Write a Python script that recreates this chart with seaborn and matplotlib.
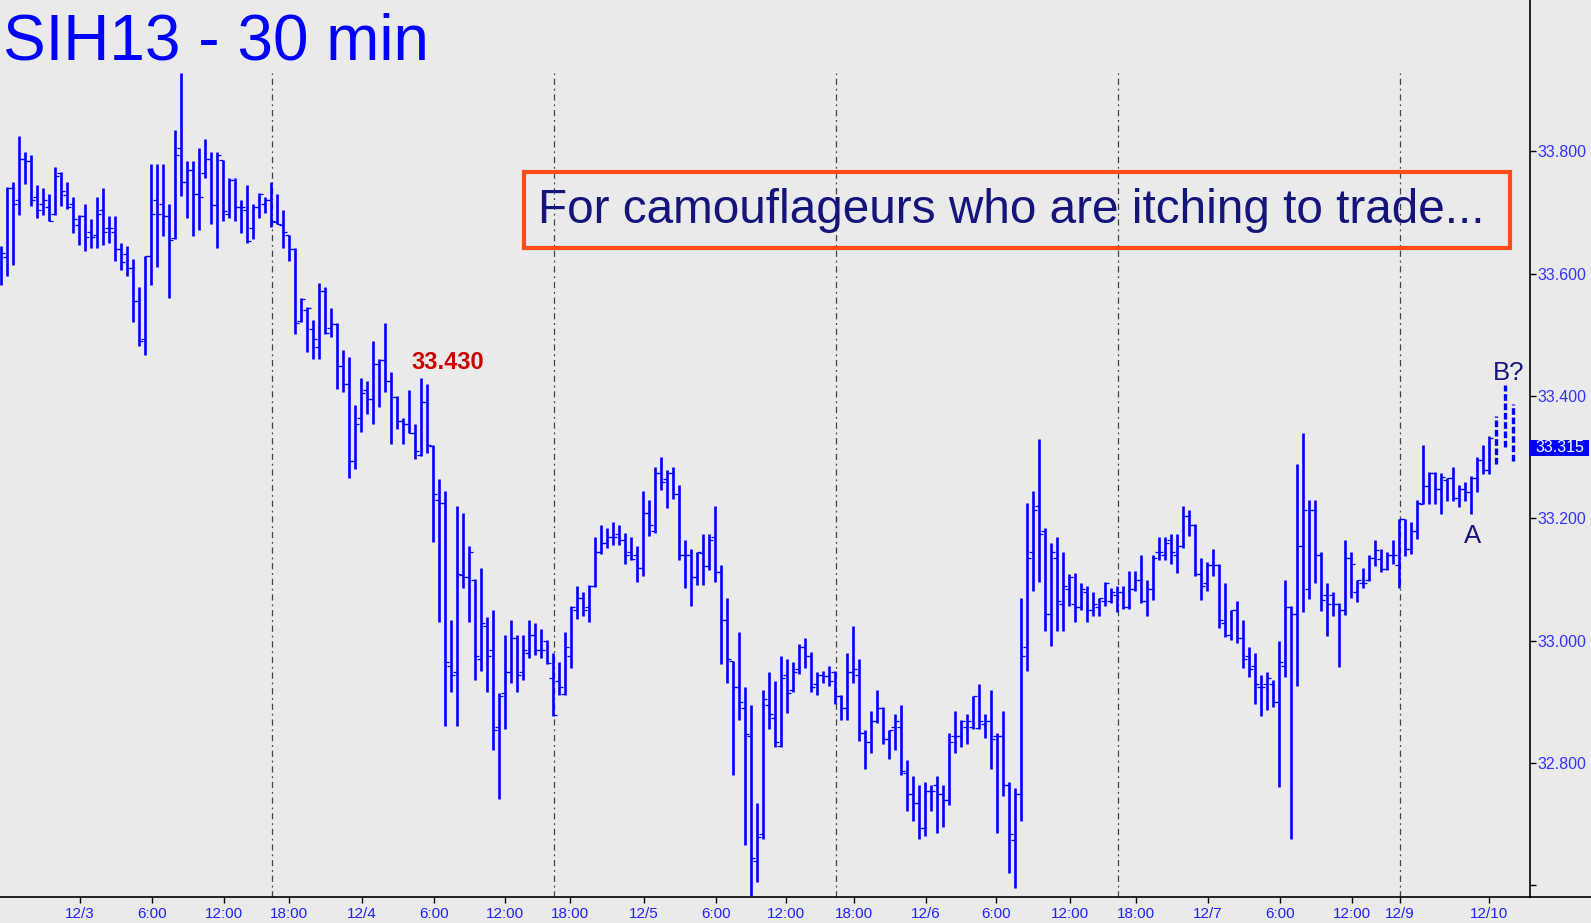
import numpy as np
import pandas as pd
import seaborn as sns
import matplotlib.pyplot as plt
from matplotlib.markers import MarkerStyle
from matplotlib.patches import Rectangle
from matplotlib.lines import Line2D

# 30-minute OHLC bars (one value per bar)
opens = [
    33.610, 33.627, 33.740, 33.720, 33.788, 33.784, 33.725, 33.714, 33.709, 33.698,
    33.764, 33.729, 33.714, 33.679, 33.694, 33.669, 33.664, 33.704, 33.674, 33.669,
    33.640, 33.633, 33.609, 33.555, 33.494, 33.629, 33.720, 33.714, 33.694, 33.658,
    33.805, 33.750, 33.769, 33.730, 33.764, 33.788, 33.713, 33.786, 33.698, 33.754,
    33.709, 33.704, 33.674, 33.709, 33.714, 33.720, 33.684, 33.679, 33.664, 33.640,
    33.522, 33.540, 33.509, 33.480, 33.571, 33.512, 33.518, 33.449, 33.419, 33.293,
    33.364, 33.409, 33.395, 33.452, 33.459, 33.424, 33.398, 33.359, 33.354, 33.340,
    33.303, 33.390, 33.318, 33.230, 33.225, 32.959, 32.949, 33.108, 33.104, 33.099,
    32.970, 33.024, 32.985, 32.858, 32.914, 32.949, 33.004, 32.949, 32.980, 33.009,
    32.985, 33.000, 32.939, 32.934, 32.913, 32.975, 33.050, 33.070, 33.055, 33.089,
    33.145, 33.160, 33.170, 33.174, 33.165, 33.145, 33.140, 33.119, 33.209, 33.179,
    33.274, 33.264, 33.274, 33.240, 33.140, 33.140, 33.104, 33.144, 33.122, 33.169,
    33.113, 33.034, 32.967, 32.924, 32.890, 32.844, 32.640, 32.684, 32.895, 32.873,
    32.828, 32.944, 32.919, 32.954, 32.990, 32.975, 32.929, 32.944, 32.942, 32.949,
    32.910, 32.890, 32.949, 32.944, 32.849, 32.834, 32.869, 32.890, 32.839, 32.859,
    32.859, 32.783, 32.749, 32.735, 32.694, 32.754, 32.764, 32.749, 32.740, 32.844,
    32.844, 32.859, 32.859, 32.857, 32.864, 32.869, 32.844, 32.844, 32.764, 32.674,
    32.749, 32.990, 33.145, 33.220, 33.179, 33.044, 33.135, 33.060, 33.084, 33.060,
    33.055, 33.080, 33.050, 33.055, 33.065, 33.065, 33.075, 33.080, 33.055, 33.084,
    33.099, 33.065, 33.084, 33.145, 33.140, 33.165, 33.140, 33.155, 33.204, 33.189,
    33.109, 33.094, 33.124, 33.124, 33.029, 33.009, 33.050, 33.004, 32.975, 32.959,
    32.924, 32.929, 32.929, 32.900, 32.959, 33.055, 33.044, 33.155, 33.084, 33.214,
    33.140, 33.075, 33.075, 33.060, 33.050, 33.135, 33.080, 33.094, 33.099, 33.135,
    33.133, 33.117, 33.140, 33.124, 33.199, 33.150, 33.179, 33.223, 33.253, 33.274,
    33.248, 33.263, 33.266, 33.233, 33.248, 33.243, 33.266, 33.296, 33.279,
]
highs = [
    33.645, 33.741, 33.750, 33.825, 33.799, 33.794, 33.745, 33.740, 33.730, 33.774,
    33.766, 33.750, 33.725, 33.696, 33.714, 33.689, 33.725, 33.740, 33.694, 33.694,
    33.650, 33.645, 33.624, 33.579, 33.629, 33.779, 33.779, 33.779, 33.714, 33.835,
    33.929, 33.784, 33.784, 33.805, 33.820, 33.799, 33.799, 33.786, 33.756, 33.756,
    33.720, 33.745, 33.714, 33.732, 33.725, 33.750, 33.730, 33.704, 33.664, 33.642,
    33.560, 33.545, 33.524, 33.584, 33.579, 33.544, 33.519, 33.475, 33.463, 33.385,
    33.429, 33.424, 33.490, 33.460, 33.519, 33.439, 33.400, 33.364, 33.409, 33.354,
    33.429, 33.419, 33.320, 33.264, 33.245, 33.034, 33.220, 33.209, 33.155, 33.101,
    33.119, 33.039, 33.050, 32.914, 33.009, 33.034, 33.009, 33.009, 33.034, 33.029,
    33.019, 33.001, 32.980, 32.965, 33.014, 33.057, 33.089, 33.080, 33.091, 33.170,
    33.189, 33.184, 33.194, 33.189, 33.176, 33.170, 33.155, 33.245, 33.230, 33.284,
    33.300, 33.279, 33.284, 33.254, 33.165, 33.150, 33.145, 33.174, 33.174, 33.220,
    33.124, 33.070, 32.967, 33.014, 32.924, 32.895, 32.735, 32.919, 32.949, 32.934,
    32.975, 32.970, 32.965, 32.995, 33.004, 32.981, 32.949, 32.950, 32.959, 32.950,
    32.911, 32.980, 33.024, 32.970, 32.854, 32.885, 32.919, 32.891, 32.854, 32.880,
    32.895, 32.805, 32.779, 32.764, 32.769, 32.764, 32.779, 32.764, 32.849, 32.885,
    32.870, 32.880, 32.909, 32.929, 32.880, 32.919, 32.849, 32.885, 32.769, 32.759,
    33.070, 33.225, 33.245, 33.330, 33.184, 33.160, 33.169, 33.145, 33.109, 33.111,
    33.094, 33.089, 33.080, 33.070, 33.096, 33.086, 33.089, 33.089, 33.114, 33.114,
    33.140, 33.099, 33.140, 33.169, 33.169, 33.174, 33.174, 33.220, 33.214, 33.191,
    33.135, 33.129, 33.150, 33.125, 33.094, 33.050, 33.065, 33.034, 32.990, 32.980,
    32.944, 32.949, 32.936, 32.999, 33.099, 33.057, 33.289, 33.340, 33.230, 33.230,
    33.145, 33.094, 33.080, 33.062, 33.165, 33.145, 33.099, 33.119, 33.140, 33.165,
    33.150, 33.145, 33.165, 33.199, 33.199, 33.194, 33.230, 33.320, 33.276, 33.276,
    33.274, 33.266, 33.284, 33.254, 33.259, 33.269, 33.300, 33.320, 33.335,
]
lows = [
    33.581, 33.596, 33.615, 33.696, 33.746, 33.710, 33.691, 33.696, 33.686, 33.696,
    33.710, 33.705, 33.666, 33.647, 33.637, 33.642, 33.642, 33.647, 33.651, 33.620,
    33.606, 33.596, 33.521, 33.481, 33.467, 33.581, 33.611, 33.661, 33.561, 33.656,
    33.727, 33.691, 33.661, 33.671, 33.756, 33.681, 33.642, 33.686, 33.691, 33.686,
    33.666, 33.651, 33.656, 33.691, 33.700, 33.676, 33.681, 33.642, 33.620, 33.501,
    33.521, 33.472, 33.460, 33.460, 33.501, 33.496, 33.411, 33.406, 33.266, 33.280,
    33.341, 33.370, 33.355, 33.382, 33.406, 33.321, 33.346, 33.321, 33.339, 33.297,
    33.302, 33.306, 33.161, 33.031, 32.861, 32.916, 32.861, 33.086, 33.031, 32.936,
    32.950, 32.916, 32.821, 32.741, 32.856, 32.931, 32.916, 32.936, 32.972, 32.977,
    32.972, 32.962, 32.877, 32.911, 32.911, 32.955, 33.035, 33.040, 33.031, 33.088,
    33.142, 33.152, 33.156, 33.156, 33.125, 33.132, 33.096, 33.106, 33.171, 33.176,
    33.246, 33.217, 33.232, 33.132, 33.086, 33.057, 33.091, 33.091, 33.116, 33.096,
    32.962, 32.931, 32.780, 32.870, 32.666, 32.583, 32.605, 32.676, 32.856, 32.826,
    32.826, 32.882, 32.916, 32.946, 32.955, 32.916, 32.911, 32.931, 32.926, 32.896,
    32.870, 32.870, 32.931, 32.836, 32.790, 32.816, 32.865, 32.831, 32.807, 32.821,
    32.780, 32.722, 32.705, 32.676, 32.681, 32.722, 32.686, 32.695, 32.731, 32.816,
    32.826, 32.831, 32.856, 32.856, 32.841, 32.790, 32.686, 32.746, 32.620, 32.596,
    32.705, 32.950, 33.081, 33.096, 33.016, 32.991, 33.016, 33.016, 33.057, 33.031,
    33.050, 33.031, 33.040, 33.040, 33.057, 33.062, 33.047, 33.052, 33.052, 33.081,
    33.062, 33.040, 33.066, 33.132, 33.132, 33.125, 33.111, 33.152, 33.171, 33.106,
    33.066, 33.081, 33.106, 33.021, 33.006, 33.001, 32.996, 32.955, 32.941, 32.896,
    32.877, 32.887, 32.892, 32.761, 32.941, 32.676, 32.926, 33.047, 33.068, 33.094,
    33.049, 33.008, 33.040, 32.957, 33.042, 33.070, 33.063, 33.086, 33.098, 33.122,
    33.112, 33.116, 33.125, 33.086, 33.138, 33.142, 33.166, 33.223, 33.223, 33.223,
    33.207, 33.228, 33.228, 33.218, 33.228, 33.207, 33.243, 33.272, 33.272,
]
closes = [
    33.634, 33.740, 33.714, 33.788, 33.784, 33.720, 33.704, 33.720, 33.687, 33.759,
    33.735, 33.709, 33.689, 33.694, 33.660, 33.660, 33.698, 33.669, 33.674, 33.640,
    33.619, 33.609, 33.555, 33.490, 33.629, 33.698, 33.698, 33.694, 33.655, 33.794,
    33.750, 33.769, 33.730, 33.725, 33.788, 33.713, 33.794, 33.703, 33.754, 33.709,
    33.709, 33.653, 33.709, 33.730, 33.720, 33.687, 33.682, 33.669, 33.640, 33.519,
    33.558, 33.544, 33.494, 33.571, 33.503, 33.518, 33.449, 33.419, 33.293, 33.354,
    33.405, 33.395, 33.452, 33.459, 33.424, 33.398, 33.359, 33.354, 33.339, 33.310,
    33.390, 33.320, 33.240, 33.225, 32.965, 32.944, 33.109, 33.104, 33.145, 32.975,
    33.029, 32.975, 32.854, 32.910, 32.949, 33.004, 32.944, 32.985, 33.009, 32.985,
    32.985, 32.964, 32.878, 32.924, 32.990, 33.055, 33.070, 33.050, 33.089, 33.145,
    33.160, 33.170, 33.170, 33.165, 33.140, 33.134, 33.119, 33.209, 33.189, 33.274,
    33.259, 33.274, 33.240, 33.140, 33.140, 33.104, 33.145, 33.122, 33.165, 33.113,
    33.034, 32.970, 32.924, 32.900, 32.848, 32.645, 32.679, 32.905, 32.880, 32.834,
    32.939, 32.914, 32.949, 32.990, 32.975, 32.924, 32.944, 32.942, 32.934, 32.910,
    32.890, 32.949, 32.954, 32.849, 32.834, 32.869, 32.890, 32.839, 32.854, 32.869,
    32.787, 32.749, 32.735, 32.694, 32.754, 32.754, 32.749, 32.740, 32.834, 32.844,
    32.869, 32.869, 32.909, 32.869, 32.869, 32.839, 32.844, 32.764, 32.684, 32.749,
    32.975, 33.135, 33.214, 33.174, 33.044, 33.145, 33.065, 33.089, 33.104, 33.055,
    33.084, 33.050, 33.060, 33.070, 33.094, 33.080, 33.080, 33.055, 33.084, 33.099,
    33.065, 33.084, 33.135, 33.145, 33.160, 33.145, 33.155, 33.204, 33.189, 33.109,
    33.089, 33.124, 33.124, 33.034, 33.009, 33.050, 33.004, 32.970, 32.954, 32.929,
    32.924, 32.939, 32.900, 32.965, 33.055, 33.044, 33.155, 33.214, 33.214, 33.140,
    33.066, 33.060, 33.060, 33.050, 33.135, 33.125, 33.099, 33.094, 33.135, 33.148,
    33.117, 33.140, 33.140, 33.199, 33.150, 33.179, 33.225, 33.253, 33.274, 33.248,
    33.268, 33.266, 33.233, 33.248, 33.243, 33.266, 33.296, 33.279, 33.332,
]

# dashed "B?" projection bars drawn after the last bar
proj_pos = [249.1, 250.7, 252.0]
proj_high = [33.367, 33.418, 33.387]
proj_low = [33.289, 33.317, 33.294]

# session breaks (bar index) and date/time axis labels
session_breaks = [45.1, 92.1, 139.1, 186.1, 233.1]
xtick_pos = [13.1, 25.1, 37.1, 48.0, 60.2, 72.2, 84.0, 94.9, 107.2, 119.1, 130.9,
             142.1, 154.1, 165.9, 178.1, 189.2, 201.1, 213.2, 225.1, 233.2, 248.0]
xtick_labels = ["12/3", "6:00", "12:00", "18:00", "12/4", "6:00", "12:00", "18:00",
                "12/5", "6:00", "12:00", "18:00", "12/6", "6:00", "12:00", "18:00",
                "12/7", "6:00", "12:00", "12/9", "12/10"]
ytick_vals = [32.6, 32.8, 33.0, 33.2, 33.4, 33.6, 33.8]
ytick_labels = ["", "32.800", "33.000", "33.200", "33.400", "33.600", "33.800"]
last_price = 33.315

BG = "#EAEAEA"
BLUE = "#0000FF"
NAVY = "#14147A"

W, H = 1591, 923
AX_W = 1530  # plot area width in pixels, 6 px per bar


def main() -> None:
    df = pd.DataFrame({"open": opens, "high": highs, "low": lows, "close": closes})
    df["bar"] = np.arange(len(df))

    sns.set_theme(style="white", rc={"axes.facecolor": BG, "figure.facecolor": BG})
    plt.rcParams["font.family"] = ["Liberation Sans", "DejaVu Sans"]

    fig = plt.figure(figsize=(W / 100, H / 100), dpi=100)
    ax = fig.add_axes([0, 1 - 897 / H, AX_W / W, 897 / H])
    ax.set_facecolor(BG)

    ymin, ymax = 32.5807, 34.0476
    ax.set_ylim(ymin, ymax)
    x0 = -1 / 6
    ax.set_xlim(x0, x0 + AX_W / 6)

    # session separators
    ax.vlines(session_breaks, ymin, df["high"].max(), colors="#444444",
              linestyles=(0, (5, 3, 1.5, 3)), linewidth=0.9, zorder=1)

    # high-low bars
    ax.vlines(df["bar"], df["low"], df["high"], colors=BLUE, linewidth=1.9, zorder=3)

    # open (left) and close (right) ticks
    left_tick = MarkerStyle([(-1, 0), (0, 0)])
    right_tick = MarkerStyle([(0, 0), (1, 0)])
    sns.scatterplot(data=df, x="bar", y="open", marker=left_tick, s=28,
                    color=BLUE, edgecolor=BLUE, linewidth=0.9, ax=ax, zorder=4,
                    legend=False)
    sns.scatterplot(data=df, x="bar", y="close", marker=right_tick, s=28,
                    color=BLUE, edgecolor=BLUE, linewidth=0.9, ax=ax, zorder=4,
                    legend=False)

    # projected bars
    ax.vlines(proj_pos, proj_low, proj_high, colors=BLUE, linewidth=2.4,
              linestyles=(0, (2.0, 0.8)), zorder=3)

    ax.set_xlabel("")
    ax.set_ylabel("")

    # axes styling
    for side in ("left", "top"):
        ax.spines[side].set_visible(False)
    for side in ("right", "bottom"):
        ax.spines[side].set_visible(True)
        ax.spines[side].set_color("black")
        ax.spines[side].set_linewidth(1.2)

    ax.yaxis.tick_right()
    ax.set_yticks(ytick_vals)
    ax.set_yticklabels(ytick_labels)
    ax.tick_params(axis="y", right=True, left=False, direction="out", length=4.3,
                   width=1, color="black", labelcolor="#3333FF", labelsize=11.5, pad=1)
    ax.set_xticks(xtick_pos)
    ax.set_xticklabels(xtick_labels)
    ax.tick_params(axis="x", bottom=True, direction="out", length=4.3, width=1,
                   color="black", labelcolor="#2020FF", labelsize=11, pad=2.8)
    ax.grid(False)

    # bottom axis line continues under the price scale
    fig.add_artist(Line2D([AX_W / W, 1], [1 - 897 / H] * 2, transform=fig.transFigure,
                          color="black", linewidth=1.2))

    # current price tag
    trans = ax.get_yaxis_transform()
    tag_h = 8 / 611.5
    ax.add_patch(Rectangle((1.0, last_price - tag_h), 59 / AX_W, 2 * tag_h,
                           transform=trans, facecolor=BLUE, edgecolor="none",
                           clip_on=False, zorder=5))
    ax.text(1.0 + 30 / AX_W, last_price, f"{last_price:.3f}", transform=trans,
            ha="center", va="center", color="white", fontsize=11.5, zorder=6,
            clip_on=False)

    # annotations
    ax.text(68.4, 33.444, "33.430", color="#CC0000", fontsize=17, fontweight="bold",
            ha="left", va="baseline")
    ax.text(245.2, 33.160, "A", color=NAVY, fontsize=18.5, ha="center", va="baseline")
    ax.text(248.6, 33.426, "B?", color=NAVY, fontsize=18.5, ha="left", va="baseline")

    fig.text(3 / W, 1 - 60 / H, "SIH13 - 30 min", color=BLUE, fontsize=46,
             ha="left", va="baseline")

    fig.text(538 / W, 1 - 223 / H, "For camouflageurs who are itching to trade...",
             color=NAVY, fontsize=34.4, ha="left", va="baseline")
    fig.add_artist(Rectangle((523.6 / W, 1 - 247.6 / H), 986.4 / W, 76.1 / H,
                             transform=fig.transFigure, fill=False,
                             edgecolor="#FF4A1A", linewidth=3))

    fig.savefig("out.png", dpi=100, facecolor=BG)


if __name__ == "__main__":
    main()
